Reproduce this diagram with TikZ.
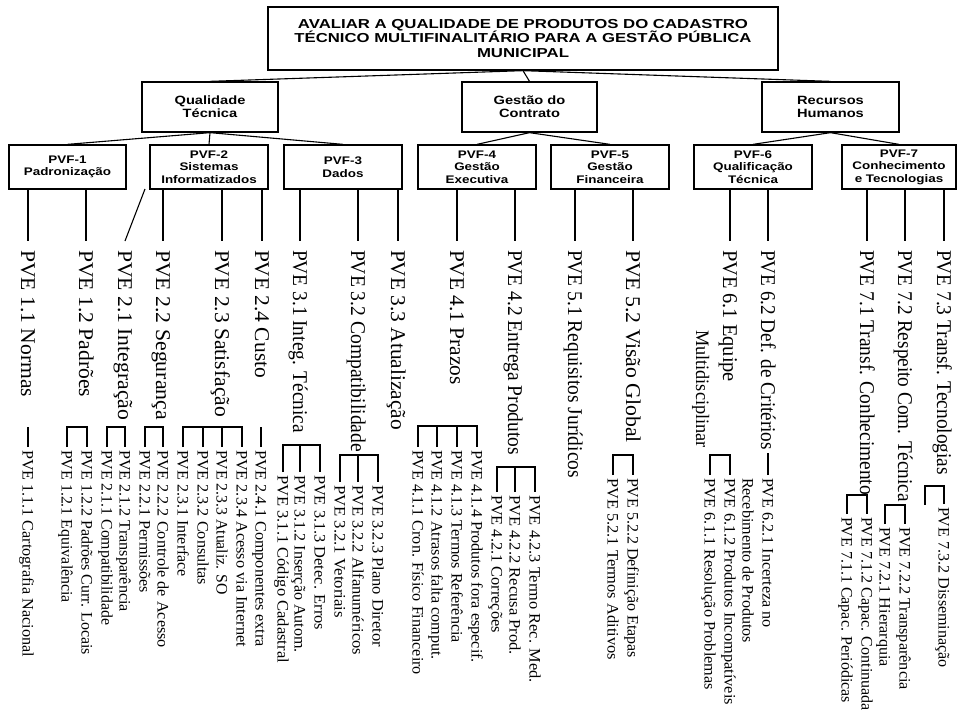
\documentclass[tikz,border=0pt]{standalone}
\usepackage{fontspec}
\usepackage{graphicx}
\setmainfont{Liberation Serif}
\newfontfamily\boxfont{Liberation Sans}

% stretch a label horizontally to a given length (in pt), keeping its height
\newcommand\fitto[2]{\resizebox{#1pt}{\height}{#2}}
% widened bold sans lettering used inside the boxes
\newcommand\wide[1]{\scalebox{1.22}[1]{#1}}

\tikzset{
  box/.style={draw, line width=1.3pt, inner sep=0pt, align=center,
    minimum height=44pt, minimum width=118pt,
    font=\boxfont\bfseries\fontsize{11}{12.5}\selectfont},
  area/.style={box, minimum height=50pt,
    font=\boxfont\bfseries\fontsize{12}{13}\selectfont},
  pve/.style={anchor=west, rotate=-90, inner sep=0pt, outer xsep=9pt, outer ysep=0pt,
    text height=14pt, text depth=0pt, font=\fontsize{21}{21}\selectfont},
  pvecont/.style={pve, outer xsep=0pt, font=\fontsize{19}{19}\selectfont},
  sub/.style={anchor=west, rotate=-90, inner sep=0pt, outer xsep=3pt, outer ysep=0pt,
    text height=10.6pt, text depth=0pt, font=\fontsize{16}{16}\selectfont},
  wire/.style={line width=1.1pt},
}

\begin{document}
\begin{tikzpicture}[x=1pt,y=1pt]
\useasboundingbox (0,0) rectangle (957,-713);

% ---------- root ----------
\node[box, minimum width=510pt, minimum height=63pt,
  font=\boxfont\bfseries\fontsize{13}{14.5}\selectfont] (top) at (523,-38.5)
  {\fitto{450}{AVALIAR A QUALIDADE DE PRODUTOS DO CADASTRO}\\
   \fitto{457}{TÉCNICO MULTIFINALITÁRIO PARA A GESTÃO PÚBLICA}\\
   \fitto{92}{MUNICIPAL}};

% ---------- areas ----------
\node[area, minimum width=136pt] (qual) at (210,-107) {\wide{Qualidade}\\\wide{Técnica}};
\node[area, minimum width=135pt] (gest) at (529.5,-107) {\wide{Gestão do}\\\wide{Contrato}};
\node[area, minimum width=137pt] (rec)  at (830.5,-107) {\wide{Recursos}\\\wide{Humanos}};

\draw[wire] (top.south) -- (qual.north);
\draw[wire] (top.south) -- (gest.north);
\draw[wire] (top.south) -- (rec.north);

% ---------- PVF boxes ----------
\node[box, minimum width=117pt] (pvf1) at (67.5,-167) {\wide{PVF-1}\\\wide{Padronização}};
\node[box] (pvf2) at (209,-167) {\wide{PVF-2}\\\wide{Sistemas}\\\wide{Informatizados}};
\node[box] (pvf3) at (343,-167) {\wide{PVF-3}\\\wide{Dados}};
\node[box] (pvf4) at (477,-167) {\wide{PVF-4}\\\wide{Gestão}\\\wide{Executiva}};
\node[box] (pvf5) at (610,-167) {\wide{PVF-5}\\\wide{Gestão}\\\wide{Financeira}};
\node[box] (pvf6) at (753,-167) {\wide{PVF-6}\\\wide{Qualificação}\\\wide{Técnica}};
\node[box, minimum width=114pt] (pvf7) at (899,-167) {\wide{PVF-7}\\\wide{Conhecimento}\\\wide{e Tecnologias}};

\draw[wire] (qual.south) -- (pvf1.north);
\draw[wire] (qual.south) -- (pvf2.north);
\draw[wire] (qual.south) -- (pvf3.north);
\draw[wire] (gest.south) -- (pvf4.north);
\draw[wire] (gest.south) -- (pvf5.north);
\draw[wire] (rec.south) -- (pvf6.north);
\draw[wire] (rec.south) -- (pvf7.north);

% ---------- PVE items ----------
\node[pve] (p11) at (28,-241)  {\fitto{147}{PVE 1.1 Normas}};
\node[pve] (p12) at (86,-241)  {\fitto{147}{PVE 1.2 Padrões}};
\node[pve] (p21) at (125,-241) {\fitto{170}{PVE 2.1 Integração}};
\node[pve] (p22) at (163,-241) {\fitto{170}{PVE 2.2 Segurança}};
\node[pve] (p23) at (222,-241) {\fitto{167}{PVE 2.3 Satisfação}};
\node[pve] (p24) at (262,-241) {\fitto{128}{PVE 2.4 Custo}};
\node[pve] (p31) at (300,-241) {\fitto{183}{PVE 3.1 Integ. Técnica}};
\node[pve] (p32) at (358,-241) {\fitto{202}{PVE 3.2 Compatibilidade}};
\node[pve] (p33) at (398,-241) {\fitto{180}{PVE 3.3 Atualização}};
\node[pve] (p41) at (457,-241) {\fitto{135}{PVE 4.1 Prazos}};
\node[pve] (p42) at (515,-241) {\fitto{205}{PVE 4.2 Entrega Produtos}};
\node[pve] (p51) at (575,-241) {\fitto{228}{PVE 5.1 Requisitos Jurídicos}};
\node[pve] (p52) at (633,-241) {\fitto{193}{PVE 5.2 Visão Global}};
\node[pve] (p61) at (730,-241) {\fitto{132}{PVE 6.1 Equipe}};
\node[pvecont] (p61b) at (703,-330) {\fitto{118}{Multidisciplinar}};
\node[pve] (p62) at (768,-241) {\fitto{200}{PVE 6.2 Def. de Critérios}};
\node[pve] (p71) at (867,-241) {\fitto{245}{PVE 7.1 Transf. Conhecimento}};
\node[pve] (p72) at (905,-241) {\fitto{252}{PVE 7.2 Respeito Com. Técnica}};
\node[pve] (p73) at (944,-241) {\fitto{225}{PVE 7.3 Transf. Tecnologias}};

\coordinate (k21) at (145,-189);
\draw[wire] (p11.west |- pvf1.south) -- (p11.west);
\draw[wire] (p12.west |- pvf1.south) -- (p12.west);
\draw[wire] (k21) -- (p21.west);
\draw[wire] (p22.west |- pvf2.south) -- (p22.west);
\draw[wire] (p23.west |- pvf2.south) -- (p23.west);
\draw[wire] (p24.west |- pvf2.south) -- (p24.west);
\draw[wire] (p31.west |- pvf3.south) -- (p31.west);
\draw[wire] (p32.west |- pvf3.south) -- (p32.west);
\draw[wire] (p33.west |- pvf3.south) -- (p33.west);
\draw[wire] (p41.west |- pvf4.south) -- (p41.west);
\draw[wire] (p42.west |- pvf4.south) -- (p42.west);
\draw[wire] (p51.west |- pvf5.south) -- (p51.west);
\draw[wire] (p52.west |- pvf5.south) -- (p52.west);
\draw[wire] (p61.west |- pvf6.south) -- (p61.west);
\draw[wire] (p62.west |- pvf6.south) -- (p62.west);
\draw[wire] (p71.west |- pvf7.south) -- (p71.west);
\draw[wire] (p72.west |- pvf7.south) -- (p72.west);
\draw[wire] (p73.west |- pvf7.south) -- (p73.west);

% ---------- sub-items ----------
\node[sub] (c111) at (28,-447)  {\fitto{207}{PVE 1.1.1 Cartografia Nacional}};
\node[sub] (c121) at (67,-447)  {\fitto{153}{PVE 1.2.1 Equivalência}};
\node[sub] (c122) at (87,-447)  {\fitto{205}{PVE 1.2.2 Padrões Curr. Locais}};
\node[sub] (c211) at (107,-447) {\fitto{175}{PVE 2.1.1 Compatibilidade}};
\node[sub] (c212) at (125,-447) {\fitto{162}{PVE 2.1.2 Transparência}};
\node[sub] (c221) at (145,-447) {\fitto{143}{PVE 2.2.1 Permissões}};
\node[sub] (c222) at (163,-447) {\fitto{198}{PVE 2.2.2 Controle de Acesso}};
\node[sub] (c231) at (183,-447) {\fitto{127}{PVE 2.3.1 Interface}};
\node[sub] (c232) at (203,-447) {\fitto{135}{PVE 2.3.2 Consultas}};
\node[sub] (c233) at (222,-447) {\fitto{145}{PVE 2.3.3 Atualiz. SO}};
\node[sub] (c234) at (242,-447) {\fitto{197}{PVE 2.3.4 Acesso via Internet}};
\node[sub] (c241) at (261,-447) {\fitto{197}{PVE 2.4.1 Componentes extra}};
\node[sub] (c311) at (283,-472) {\fitto{188}{PVE 3.1.1 Código Cadastral}};
\node[sub] (c312) at (300,-472) {\fitto{178}{PVE 3.1.2 Inserção Autom.}};
\node[sub] (c313) at (320,-472) {\fitto{155}{PVE 3.1.3 Detec. Erros}};
\node[sub] (c321) at (340,-482) {\fitto{133}{PVE 3.2.1 Vetoriais}};
\node[sub] (c322) at (358,-482) {\fitto{170}{PVE 3.2.2 Alfanuméricos}};
\node[sub] (c323) at (378,-482) {\fitto{162}{PVE 3.2.3 Plano Diretor}};
\node[sub] (c411) at (418,-447) {\fitto{225}{PVE 4.1.1 Cron. Físico Financeiro}};
\node[sub] (c412) at (437,-447) {\fitto{210}{PVE 4.1.2 Atrasos falta comput.}};
\node[sub] (c413) at (457,-447) {\fitto{193}{PVE 4.1.3 Termos Referência}};
\node[sub] (c414) at (477,-447) {\fitto{213}{PVE 4.1.4 Produtos fora especif.}};
\node[sub] (c421) at (497,-492) {\fitto{138}{PVE 4.2.1 Correções}};
\node[sub] (c422) at (515,-492) {\fitto{160}{PVE 4.2.2 Recusa Prod.}};
\node[sub] (c423) at (535,-492) {\fitto{188}{PVE 4.2.3 Termo Rec. Med.}};
\node[sub] (c521) at (613,-475) {\fitto{182}{PVE 5.2.1 Termos Aditivos}};
\node[sub] (c522) at (633,-475) {\fitto{180}{PVE 5.2.2 Definição Etapas}};
\node[sub] (c611) at (710,-475) {\fitto{212}{PVE 6.1.1 Resolução Problemas}};
\node[sub] (c612) at (730,-475) {\fitto{227}{PVE 6.1.2 Produtos Incompatíveis}};
\node[sub] (c621) at (768,-475) {\fitto{150}{PVE 6.2.1 Incerteza no}};
\node[sub, outer xsep=0pt] (c621b) at (748,-478) {\fitto{165}{Recebimento de Produtos}};
\node[sub] (c711) at (847,-514) {\fitto{186}{PVE 7.1.1 Capac. Periódicas}};
\node[sub] (c712) at (867,-514) {\fitto{194}{PVE 7.1.2 Capac. Continuada}};
\node[sub] (c721) at (885,-524) {\fitto{140}{PVE 7.2.1 Hierarquia}};
\node[sub] (c722) at (905,-524) {\fitto{163}{PVE 7.2.2 Transparência}};
\node[sub] (c732) at (944,-504) {\fitto{161}{PVE 7.3.2 Disseminação}};

% brackets joining each family of sub-items
\draw[wire] (c111.west) -- ++(0,20);
\draw[wire] (c121.west) -- ++(0,20) -| (c122.west);
\draw[wire] (c211.west) -- ++(0,20) -| (c212.west);
\draw[wire] (c221.west) -- ++(0,20) -| (c222.west);
\draw[wire] (c231.west) -- ++(0,20) -| (c234.west);
\draw[wire] (c232.west) -- ++(0,20);
\draw[wire] (c233.west) -- ++(0,20);
\draw[wire] (c241.west) -- ++(0,20);
\draw[wire] (c311.west) -- ++(0,27) -| (c313.west);
\draw[wire] (c312.west) -- ++(0,27);
\draw[wire] (c321.west) -- ++(0,27) -| (c323.west);
\draw[wire] (c322.west) -- ++(0,27);
\draw[wire] (c411.west) -- ++(0,21) -| (c414.west);
\draw[wire] (c412.west) -- ++(0,21);
\draw[wire] (c413.west) -- ++(0,21);
\draw[wire] (c421.west) -- ++(0,25) -| (c423.west);
\draw[wire] (c422.west) -- ++(0,25);
\draw[wire] (c521.west) -- ++(0,20) -| (c522.west);
\draw[wire] (c611.west) -- ++(0,20) -| (c612.west);
\draw[wire] (c621.west) -- ++(0,22);
\draw[wire] (c711.west) -- ++(0,19) -| (c712.west);
\draw[wire] (c721.west) -- ++(0,19) -| (c722.west);
\draw[wire] (c732.west) -- ++(0,18) -- ++(-19,0) -- ++(0,-19);
\end{tikzpicture}
\end{document}
